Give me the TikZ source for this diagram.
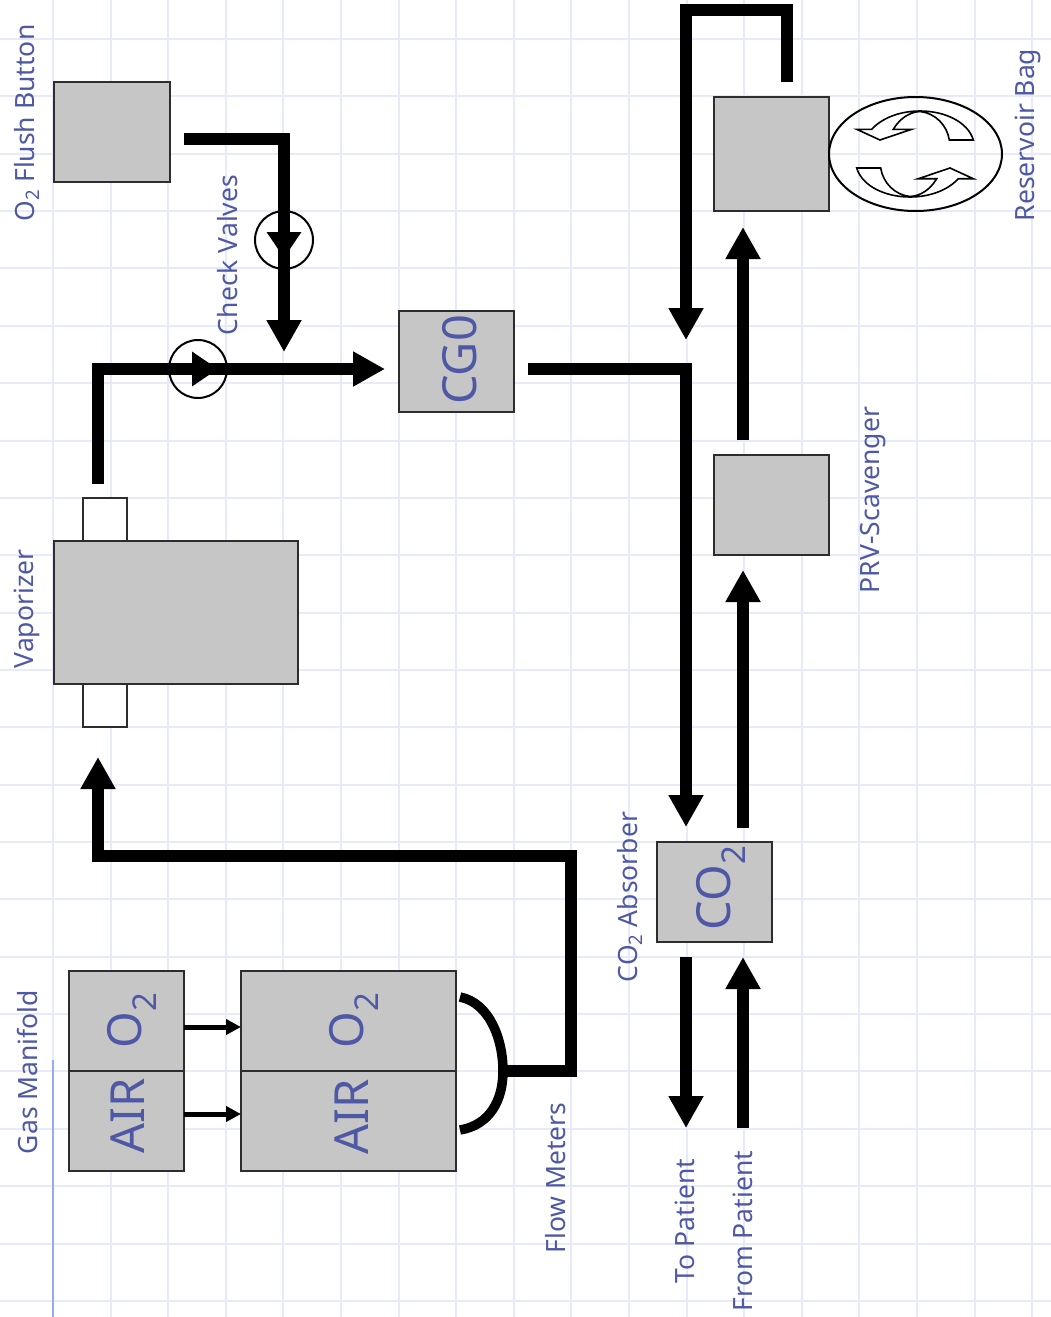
\documentclass[tikz,border=0pt]{standalone}
\usepackage{xcolor}
\usepackage{fontspec}
\setmainfont{Noto Sans}
\usetikzlibrary{shapes.geometric, arrows.meta, positioning, calc}
\definecolor{gridblue}{RGB}{230,234,250}
\definecolor{marginblue}{RGB}{150,170,240}
\definecolor{labelblue}{RGB}{78,88,165}
\definecolor{boxgray}{RGB}{198,198,198}
\definecolor{boxline}{RGB}{45,45,45}

\begin{document}
\begin{tikzpicture}[
    x=1pt, y=-1pt,
    gridline/.style={gridblue, line width=2pt},
    unit/.style={rectangle, draw=boxline, fill=boxgray, line width=2pt, inner sep=0pt, outer sep=0pt},
    port/.style={rectangle, draw=boxline, fill=white, line width=1.6pt, inner sep=0pt, outer sep=0pt, minimum width=44pt, minimum height=43pt},
    tag/.style={rotate=90, text=labelblue, inner sep=0pt, font=\fontsize{26.5}{30}\selectfont},
    unittext/.style={rotate=90, text=labelblue, inner sep=0pt, font=\fontsize{47}{56}\selectfont},
    check/.style={circle, draw=black, line width=2pt, minimum size=58pt, inner sep=0pt},
    pipe/.style={-{Triangle[length=32pt, width=33pt]}, line width=11.5pt, black},
    feed/.style={-{Triangle[length=15pt, width=15pt]}, line width=5pt, black},
    bagarrow/.style={draw=black, line width=1.6pt},
  ]
    \useasboundingbox (0,0) rectangle (1051,1317);
    \fill[white] (0,0) rectangle (1051,1317);
    % notebook grid
    \foreach \k in {0,...,17} \draw[gridline] ({53+57.6*\k},0) -- ({53+57.6*\k},1317);
    \foreach \k in {-1,0,...,22} \draw[gridline] (0,{39+57.36*\k}) -- (1051,{39+57.36*\k});
    \draw[marginblue, line width=2.5pt] (53,1060) -- (53,1317);

    % units
    \node[unit, minimum width=116pt, minimum height=100pt] (flush) at (112,132) {};
    \node[unit, minimum width=115pt, minimum height=114pt] (scrub) at (771.5,154) {};
    \node[unit, minimum width=115pt, minimum height=101pt] (cgo) at (456.5,361.5) {};
    \node[unit, minimum width=244pt, minimum height=143pt] (vaporizer) at (176,612.5) {};
    \node[port] (vapout) at (105,519.5) {};
    \node[port] (vapin) at (105,705.5) {};
    \node[unit, minimum width=115pt, minimum height=100pt] (prv) at (771.5,505) {};
    \node[unit, minimum width=115pt, minimum height=100pt] (absorber) at (714.5,892) {};
    \node[unit, minimum width=115pt, minimum height=100pt] (gasoxy) at (126.5,1021) {};
    \node[unit, minimum width=115pt, minimum height=100pt] (gasair) at (126.5,1121) {};
    \node[unit, minimum width=215pt, minimum height=100pt] (meteroxy) at (348.5,1021) {};
    \node[unit, minimum width=215pt, minimum height=100pt] (meterair) at (348.5,1121) {};

    % text inside the units
    \node[unittext] (cgotext) at (460,360) {CG0};
    \node[unittext] (absorbertext) at (721,888) {CO\textsubscript{2}};
    \node[unittext] (gasoxytext) at (132,1020) {O\textsubscript{2}};
    \node[unittext] (gasairtext) at (128,1116) {AIR};
    \node[unittext] (meteroxytext) at (354,1020) {O\textsubscript{2}};
    \node[unittext] (meterairtext) at (352,1117) {AIR};

    % reservoir bag
    \node[ellipse, draw=black, line width=2pt, minimum width=173pt, minimum height=114pt, inner sep=0pt] (bag) at (915.5,154) {};
    \foreach \ang in {0,180} {
      \draw[bagarrow, rotate around={\ang:(915,154)}] (973.3,140) .. controls (968,122) and (945,111) .. (920,111)
        .. controls (900,111) and (882,118) .. (871.7,129.3) -- (856.7,129.3) -- (880,140) -- (911.7,129.3) -- (893.3,129.3)
        .. controls (900,118) and (910,112) .. (920,111.5) .. controls (935,113) and (947,125) .. (949.3,140) -- cycle;
    }

    % check valves
    \node[check] (checkone) at (284,240) {};
    \node[check] (checktwo) at (198,369) {};
    \coordinate (mergetip) at (284,352);
    \coordinate (tee) at (686,369);
    \coordinate (topleft) at (686,10);
    \coordinate (meterjoin) at (503,1071);
    \coordinate (meterbend) at (571,856);
    \coordinate (meterup) at (460,997);
    \coordinate (meterdown) at (460,1130);
    \coordinate (topatient) at (686,1128);
    \coordinate (frompatient) at (743,1128);

    % pipes
    \draw[pipe, shorten <=14pt] ([yshift=-7pt]flush.east) -| (checkone.center) -- (mergetip);
    \draw[pipe, shorten <=14pt, shorten >=14pt] ([xshift=-7pt]vapout.north) |- ([yshift=-7.5pt]cgo.west);
    \draw[pipe, -{Triangle[length=26pt, width=33pt]}] (checkone.center) -- ++(0,18);
    \draw[pipe, -{Triangle[length=26pt, width=33pt]}] (checktwo.center) -- ++(20,0);
    \draw[pipe, shorten <=14pt, shorten >=15pt] ([yshift=-7.5pt]cgo.east) -| ([xshift=-28.5pt]absorber.north);
    \draw[pipe, shorten <=15pt, shorten >=29pt] ([xshift=15.5pt]scrub.north) |- (topleft) -- (tee);
    \draw[pipe, shorten <=14pt, shorten >=15pt] ([xshift=28.5pt]absorber.north) -- ([xshift=-28.5pt]prv.south);
    \draw[pipe, shorten <=15pt, shorten >=16pt] ([xshift=-28.5pt]prv.north) -- ([xshift=-28.5pt]scrub.south);
    \draw[pipe, shorten <=15pt] ([xshift=-28.5pt]absorber.south) -- (topatient);
    \draw[pipe, shorten >=15pt] (frompatient) -- ([xshift=28.5pt]absorber.south);
    \draw[feed] ([yshift=-6pt]gasoxy.east) -- ([yshift=-6pt]meteroxy.west);
    \draw[feed] ([yshift=7pt]gasair.east) -- ([yshift=7pt]meterair.west);
    \draw[line width=9.5pt, black] (meterup) .. controls (490,1003) and (503,1040) .. (meterjoin)
      .. controls (503,1100) and (490,1125) .. (meterdown);
    \draw[pipe, shorten >=30pt] (meterjoin) -| (meterbend) -| ([xshift=-7pt]vapin.south);

    % labels
    \node[tag] (flushtag) at (27,123) {O\textsubscript{2} Flush Button};
    \node[tag] (checktag) at (228,255) {Check Valves};
    \node[tag] (vaportag) at (27,609) {Vaporizer};
    \node[tag] (gastag) at (27,1072) {Gas Manifold};
    \node[tag] (metertag) at (556,1178) {Flow Meters};
    \node[tag] (topatienttag) at (685,1221) {To Patient};
    \node[tag] (frompatienttag) at (743,1231) {From Patient};
    \node[tag] (absorbertag) at (630,897) {CO\textsubscript{2} Absorber};
    \node[tag] (prvtag) at (873,500) {PRV-Scavenger};
    \node[tag] (bagtag) at (1028,135) {Reservoir Bag};
  \end{tikzpicture}
\end{document}
